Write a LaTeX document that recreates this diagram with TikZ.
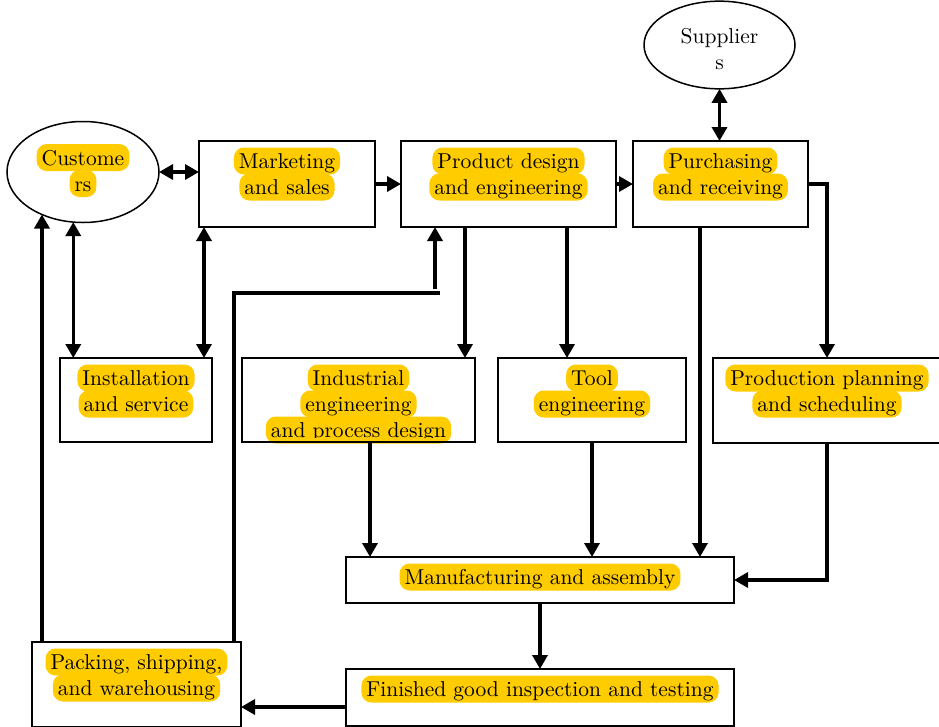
\documentclass[tikz,border=0pt]{standalone}
\usepackage{fontspec}
\setmainfont{lmroman10-regular}[Extension=.otf, BoldFont=lmroman10-bold, ItalicFont=lmroman10-italic]
\usetikzlibrary{arrows.meta,calc,shapes.geometric}
\definecolor{hl}{HTML}{FFCC00}
\tikzset{
  hlbox/.style={shape=rectangle, draw=none, fill=hl, minimum width=0pt,
    minimum height=0pt, inner xsep=5pt, inner ysep=0pt, outer sep=0pt,
    text height=21pt, text depth=6pt, rounded corners=10pt},
  boxnode/.style={shape=rectangle, inner sep=0pt, outer sep=0pt, anchor=north west},
  oval/.style={ellipse, draw, line width=1.5pt, inner sep=0pt, outer sep=0pt, align=center},
  border/.style={line width=1.8pt},
  flow/.style={line width=3.4pt},
  arr/.style={flow, -{Triangle[length=14pt,width=15pt]}},
  darr/.style={flow, {Triangle[length=14pt,width=15pt]}-{Triangle[length=14pt,width=15pt]}},
}
% one highlighted line of text
\newcommand\hl[1]{\smash{\tikz[baseline=(t.base)]\node[hlbox](t){#1};}\rule[-7pt]{0pt}{26pt}}
% highlighted line whose text is cut off at its baseline
\newcommand\hlcut[1]{\smash{\tikz[baseline=(t.base)]{\node[hlbox](t){\phantom{#1}};
  \clip (t.base west) rectangle (t.north east);
  \node[anchor=base, inner sep=0pt, minimum width=0pt, minimum height=0pt] at (t.base) {#1};}}%
  \rule[-7pt]{0pt}{26pt}}
% text block of a box: width, height, lines
\newcommand\boxtext[3]{\begin{minipage}[t][#2][t]{#1}\centering\vspace*{8.5pt}#3\end{minipage}}
\begin{document}
\begin{tikzpicture}[x=1pt, y=-1pt, font=\fontsize{21.5}{26}\selectfont]
\useasboundingbox[fill=white] (0,0) rectangle (939,726);

% ovals
\node[oval, minimum width=152pt, minimum height=101pt] (cust) at (83,172)
  {\hl{Custome}\\\hl{rs}};
\node[oval, minimum width=151pt, minimum height=80pt] (supp) at (719.5,45)
  {\rule[-7pt]{0pt}{36pt}Supplier\\\rule[-7pt]{0pt}{26pt}s};

% boxes
\node[boxnode] (mkt) at (199,141)
  {\boxtext{176pt}{86pt}{\hl{Marketing}\\\hl{and sales}}};
\node[boxnode] (prod) at (401,141)
  {\boxtext{215pt}{86pt}{\hl{Product design}\\\hl{and engineering}}};
\node[boxnode] (purch) at (633,141)
  {\boxtext{175pt}{86pt}{\hl{Purchasing}\\\hl{and receiving}}};
\node[boxnode] (inst) at (60,358)
  {\boxtext{152pt}{84pt}{\hl{Installation}\\\hl{and service}}};
\node[boxnode] (ind) at (242,358)
  {\boxtext{233pt}{84pt}{\hl{Industrial}\\\hl{engineering}\\\hlcut{and process design}}};
\node[boxnode] (tool) at (498,358)
  {\boxtext{188pt}{84pt}{\hl{Tool}\\\hl{engineering}}};
\node[boxnode] (plan) at (713,358)
  {\boxtext{228pt}{85pt}{\hl{Production planning}\\\hl{and scheduling}}};
\node[boxnode] (manu) at (346,557)
  {\boxtext{388pt}{46pt}{\hl{Manufacturing and assembly}}};
\node[boxnode] (fin) at (346,669)
  {\boxtext{388pt}{57pt}{\hl{Finished good inspection and testing}}};
\node[boxnode] (pack) at (32,642)
  {\boxtext{209pt}{85pt}{\hl{Packing, shipping,}\\\hl{and warehousing}}};

% box outlines on top of the highlighted text
\foreach \b in {mkt,prod,purch,inst,ind,tool,plan,manu,fin,pack}
  \draw[border] (\b.south west) rectangle (\b.north east);

% connection points
\coordinate (mi) at ($(mkt.south west)+(5,0)$);
\coordinate (pdx) at ($(prod.south west)+(34,0)$);
\coordinate (pi) at ($(prod.south west)+(64,0)$);
\coordinate (pt) at ($(prod.south west)+(166,0)$);
\coordinate (pm) at ($(purch.south west)+(67,0)$);
\coordinate (im) at ($(ind.south west)+(128,0)$);
\coordinate (fp) at ($(fin.north west)+(0,38)$);
\coordinate (elbow) at (440,293);

% top row
\draw[darr] (cust.east) -- (cust.east -| mkt.west);
\draw[arr] (mkt.east) -- (prod.west);
\draw[arr] (prod.east) -- (purch.west);
\draw[darr] (supp.south) -- (supp.south |- purch.north);

% customer side
\draw[arr] (cust.226 |- pack.north) -- (cust.226);
\draw[darr] (cust.259) -- (cust.259 |- inst.north);
\draw[darr] (mi) -- (mi |- inst.north);

% feedback from packing to product design
\draw[flow] ($(pack.north east)+(-7,0)$) |- (elbow);
\draw[arr] ($(pdx |- elbow)+(0,-4)$) -- (pdx);

% engineering and purchasing outputs
\draw[arr] (pi) -- (pi |- ind.north);
\draw[arr] (pt) -- (pt |- tool.north);
\draw[arr] (pm) -- (pm |- manu.north);
\draw[arr] (purch.east) -| (plan.north);

% into manufacturing
\draw[arr] (im) -- (im |- manu.north);
\draw[arr] (tool.south) -- (tool.south |- manu.north);
\draw[arr] (plan.south) |- (manu.east);

% bottom row
\draw[arr] (manu.south) -- (fin.north);
\draw[arr] (fp) -- (fp -| pack.east);
\end{tikzpicture}
\end{document}
